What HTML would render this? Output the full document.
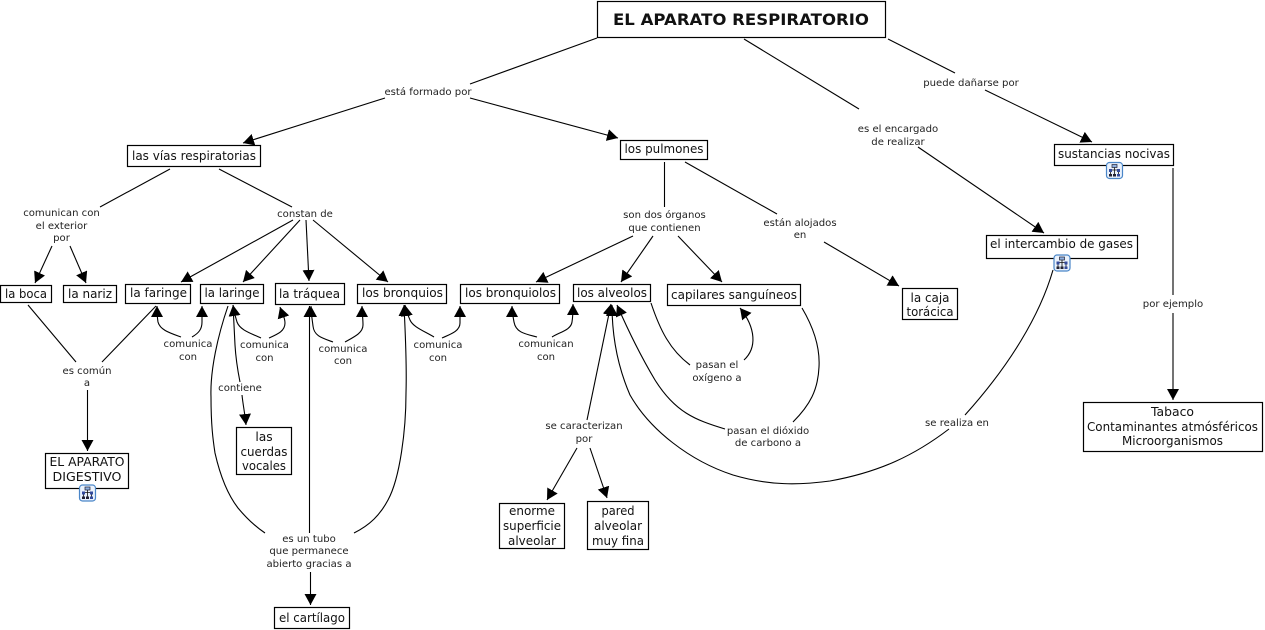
<!DOCTYPE html>
<html><head><meta charset="utf-8"><style>
html,body{margin:0;padding:0;background:#fff;width:1265px;height:630px;overflow:hidden}
svg{display:block}
text{font-family:"DejaVu Sans","Liberation Sans",sans-serif;text-anchor:middle;fill:#111}
.n{font-size:12.3px}
.l{font-size:10.1px;fill:#222}
rect.b{fill:#fff;stroke:#000;stroke-width:1.2}
.c path,.c line{fill:none;stroke:#000;stroke-width:1.1}
</style></head><body>
<svg width="1265" height="630" viewBox="0 0 1265 630" xmlns="http://www.w3.org/2000/svg">
<defs>
<marker id="a" markerUnits="userSpaceOnUse" markerWidth="14" markerHeight="14" refX="11" refY="6" orient="auto"><path d="M0,0 L11,6 L0,12 Z" fill="#000"/></marker>
<g id="ic"><rect x="0.5" y="0.5" width="16" height="16" rx="3" fill="#eaf2fc" stroke="#4a86c8" stroke-width="1.2"/><rect x="6" y="2.5" width="5" height="3" fill="#8fb0e0" stroke="#223" stroke-width=".7"/><path d="M8.5,5.5V12M4.5,8V12M12.5,8V12M4.5,8H12.5" stroke="#111" stroke-width=".8" fill="none"/><rect x="3" y="7" width="3" height="3" fill="#334a9c"/><rect x="11" y="7" width="3" height="3" fill="#334a9c"/><rect x="3" y="12" width="3" height="2.5" fill="#223"/><rect x="7" y="12" width="3" height="2.5" fill="#223"/><rect x="11" y="12" width="3" height="2.5" fill="#334a9c"/></g>
</defs>
<g class="c">
<line x1="597" y1="38" x2="470" y2="84"/>
<line x1="385" y1="98" x2="243" y2="143" marker-end="url(#a)"/>
<line x1="470" y1="98" x2="618" y2="138" marker-end="url(#a)"/>
<line x1="744" y1="39" x2="859" y2="109"/>
<line x1="918" y1="147" x2="1044" y2="233" marker-end="url(#a)"/>
<line x1="888" y1="39" x2="955" y2="73"/>
<line x1="985" y1="90" x2="1092" y2="142" marker-end="url(#a)"/>
<line x1="1173" y1="168" x2="1173" y2="295" stroke-width="1.3"/>
<line x1="1173" y1="313" x2="1173" y2="400" marker-end="url(#a)"/>
<line x1="170" y1="169" x2="100" y2="207"/>
<line x1="219" y1="169" x2="292" y2="207"/>
<line x1="52" y1="246" x2="35" y2="283" marker-end="url(#a)"/>
<line x1="70" y1="246" x2="86" y2="283" marker-end="url(#a)"/>
<line x1="293" y1="220" x2="181" y2="282" marker-end="url(#a)"/>
<line x1="300" y1="220" x2="243" y2="282" marker-end="url(#a)"/>
<line x1="306" y1="220" x2="309" y2="281" marker-end="url(#a)"/>
<line x1="313" y1="220" x2="388" y2="282" marker-end="url(#a)"/>
<line x1="664.5" y1="162" x2="664.5" y2="207"/>
<line x1="633" y1="236" x2="536" y2="282" marker-end="url(#a)"/>
<line x1="653" y1="236" x2="621" y2="282" marker-end="url(#a)"/>
<line x1="678" y1="236" x2="722" y2="282" marker-end="url(#a)"/>
<line x1="685" y1="162" x2="777" y2="214"/>
<line x1="824" y1="242" x2="899" y2="286" marker-end="url(#a)"/>
<line x1="28" y1="305" x2="76" y2="362"/>
<line x1="156" y1="306" x2="102" y2="362"/>
<line x1="87.5" y1="390" x2="87.5" y2="451" marker-end="url(#a)"/>
<path d="M181,337 C170,333 160,330 158,322 C157,316 157,312 157,306" marker-end="url(#a)"/>
<path d="M192,337 C199,333 202,329 202,322 L202,306" marker-end="url(#a)"/>
<path d="M261,338 C250,333 240,330 237,322 C235,316 234,312 233,305" marker-end="url(#a)"/>
<path d="M269,338 C278,334 285,331 285,323 C285,317 282,313 280,307" marker-end="url(#a)"/>
<path d="M333,342 C322,338 314,336 313,326 C312,318 311,313 311,306" marker-end="url(#a)"/>
<path d="M345,342 C354,337 363,333 363,325 C363,318 362,313 362,306" marker-end="url(#a)"/>
<path d="M434,337 C424,331 413,327 410,320 C408,315 406,311 405,305" marker-end="url(#a)"/>
<path d="M442,338 C451,334 460,331 460,323 L460,306" marker-end="url(#a)"/>
<path d="M537,337 C526,334 516,333 514,322 C513,316 512,312 512,306" marker-end="url(#a)"/>
<path d="M552,337 C560,332 571,330 572,322 C573,316 573,311 573,304" marker-end="url(#a)"/>
<path d="M233,305 L235,345 C236,362 238,372 240,382"/>
<path d="M242,395 C243,405 245,414 246,425" marker-end="url(#a)"/>
<line x1="309.5" y1="533" x2="309.5" y2="306" marker-end="url(#a)"/>
<line x1="310.5" y1="572" x2="310.5" y2="605" marker-end="url(#a)"/>
<path d="M228,306 C218,335 210,370 211,397 C211,425 213,440 215,453 C220,475 228,495 238,508 C248,520 256,527 265,533"/>
<path d="M354,533 C370,525 380,515 388,500 C400,478 406,430 406,393 C407,360 405,330 404,305" marker-end="url(#a)"/>
<line x1="587" y1="420" x2="611" y2="304" marker-end="url(#a)"/>
<line x1="577" y1="448" x2="547" y2="500" marker-end="url(#a)"/>
<line x1="590" y1="448" x2="607" y2="498" marker-end="url(#a)"/>
<path d="M651,303 C660,330 670,350 690,365"/>
<path d="M744,360 C757,348 756,328 740,308" marker-end="url(#a)"/>
<path d="M802,308 C815,330 820,350 819,367 C818,390 810,405 793,422"/>
<path d="M725,429 C695,420 675,412 655,380 C640,355 628,330 617,305" marker-end="url(#a)"/>
<path d="M1053,270 C1040,315 1010,365 965,415"/>
<path d="M949,429 C915,455 880,472 830,481 C800,485 770,486 733,475 C690,461 650,430 630,395 C617,365 612,335 612,305" marker-end="url(#a)"/>
</g>

<rect class="b" x="597.5" y="1.5" width="288" height="36"/>
<text x="741" y="25" font-size="16" font-weight="bold" fill="#000" textLength="256" lengthAdjust="spacingAndGlyphs">EL APARATO RESPIRATORIO</text>
<rect class="b" x="127.5" y="145.5" width="133" height="21"/><text class="n" x="194" y="160" textLength="124" lengthAdjust="spacingAndGlyphs">las vías respiratorias</text>
<rect class="b" x="620.5" y="140.5" width="87" height="19"/><text class="n" x="664" y="153" textLength="79" lengthAdjust="spacingAndGlyphs">los pulmones</text>
<rect class="b" x="1054.5" y="144.5" width="119" height="21"/><text class="n" x="1114" y="158" textLength="112" lengthAdjust="spacingAndGlyphs">sustancias nocivas</text>
<rect class="b" x="986.5" y="235.5" width="151" height="23"/><text class="n" x="1061.5" y="248" textLength="143" lengthAdjust="spacingAndGlyphs">el intercambio de gases</text>
<rect class="b" x="0.5" y="285.5" width="51" height="17"/><text class="n" x="26" y="298" textLength="42" lengthAdjust="spacingAndGlyphs">la boca</text>
<rect class="b" x="63.5" y="285.5" width="53" height="17"/><text class="n" x="90" y="298" textLength="44" lengthAdjust="spacingAndGlyphs">la nariz</text>
<rect class="b" x="125.5" y="284.5" width="65" height="19"/><text class="n" x="158.5" y="297" textLength="57" lengthAdjust="spacingAndGlyphs">la faringe</text>
<rect class="b" x="200.5" y="284.5" width="63" height="19"/><text class="n" x="232" y="297" textLength="55" lengthAdjust="spacingAndGlyphs">la laringe</text>
<rect class="b" x="275.5" y="283.5" width="69" height="21"/><text class="n" x="309.5" y="298" textLength="61" lengthAdjust="spacingAndGlyphs">la tráquea</text>
<rect class="b" x="357.5" y="284.5" width="89" height="19"/><text class="n" x="402.5" y="297" textLength="81" lengthAdjust="spacingAndGlyphs">los bronquios</text>
<rect class="b" x="460.5" y="284.5" width="99" height="19"/><text class="n" x="510.5" y="297" textLength="91" lengthAdjust="spacingAndGlyphs">los bronquiolos</text>
<rect class="b" x="573.5" y="284.5" width="77" height="17"/><text class="n" x="612" y="297" textLength="70" lengthAdjust="spacingAndGlyphs">los alveolos</text>
<rect class="b" x="667.5" y="284.5" width="133" height="21"/><text class="n" x="734" y="299" textLength="126" lengthAdjust="spacingAndGlyphs">capilares sanguíneos</text>
<rect class="b" x="902.5" y="288.5" width="55" height="31"/><text class="n" x="930" y="302" textLength="39" lengthAdjust="spacingAndGlyphs">la caja</text><text class="n" x="930" y="316" textLength="47" lengthAdjust="spacingAndGlyphs">torácica</text>
<rect class="b" x="236.5" y="427.5" width="55" height="47"/><text class="n" x="264" y="441">las</text><text class="n" x="264" y="456" textLength="47" lengthAdjust="spacingAndGlyphs">cuerdas</text><text class="n" x="264" y="470" textLength="44" lengthAdjust="spacingAndGlyphs">vocales</text>
<rect class="b" x="45.5" y="453.5" width="83" height="35"/><text class="n" x="87" y="466" textLength="75" lengthAdjust="spacingAndGlyphs">EL APARATO</text><text class="n" x="87" y="481" textLength="69" lengthAdjust="spacingAndGlyphs">DIGESTIVO</text>
<rect class="b" x="274.5" y="607.5" width="75" height="21"/><text class="n" x="312" y="622" textLength="66" lengthAdjust="spacingAndGlyphs">el cartílago</text>
<rect class="b" x="499.5" y="503.5" width="65" height="45"/><text class="n" x="532" y="515" textLength="46" lengthAdjust="spacingAndGlyphs">enorme</text><text class="n" x="532" y="530" textLength="58" lengthAdjust="spacingAndGlyphs">superficie</text><text class="n" x="532" y="545" textLength="48" lengthAdjust="spacingAndGlyphs">alveolar</text>
<rect class="b" x="587.5" y="501.5" width="61" height="48"/><text class="n" x="618" y="515" textLength="33" lengthAdjust="spacingAndGlyphs">pared</text><text class="n" x="618" y="530" textLength="48" lengthAdjust="spacingAndGlyphs">alveolar</text><text class="n" x="618" y="545" textLength="52" lengthAdjust="spacingAndGlyphs">muy fina</text>
<rect class="b" x="1083.5" y="402.5" width="179" height="49"/><text class="n" x="1172.5" y="416" textLength="43" lengthAdjust="spacingAndGlyphs">Tabaco</text><text class="n" x="1172.5" y="431" textLength="171" lengthAdjust="spacingAndGlyphs">Contaminantes atmósféricos</text><text class="n" x="1172.5" y="445" textLength="101" lengthAdjust="spacingAndGlyphs">Microorganismos</text>

<use href="#ic" x="1106" y="162"/><use href="#ic" x="1053.5" y="254.5"/><use href="#ic" x="79" y="484.5"/>

<text class="l" x="428" y="95">está formado por</text>
<text class="l" x="898" y="132">es el encargado</text><text class="l" x="898" y="145">de realizar</text>
<text class="l" x="971" y="86">puede dañarse por</text>
<text class="l" x="1173" y="307">por ejemplo</text>
<text class="l" x="61.5" y="216">comunican con</text><text class="l" x="61.5" y="229">el exterior</text><text class="l" x="61.5" y="241">por</text>
<text class="l" x="305" y="217">constan de</text>
<text class="l" x="664.5" y="218">son dos órganos</text><text class="l" x="664.5" y="231">que contienen</text>
<text class="l" x="800" y="226">están alojados</text><text class="l" x="800" y="238">en</text>
<text class="l" x="87" y="374">es común</text><text class="l" x="87" y="386">a</text>
<text class="l" x="188" y="347">comunica</text><text class="l" x="188" y="360">con</text>
<text class="l" x="264.5" y="348">comunica</text><text class="l" x="264.5" y="361">con</text>
<text class="l" x="343" y="352">comunica</text><text class="l" x="343" y="364">con</text>
<text class="l" x="438" y="348">comunica</text><text class="l" x="438" y="361">con</text>
<text class="l" x="546" y="347">comunican</text><text class="l" x="546" y="360">con</text>
<text class="l" x="240" y="391">contiene</text>
<text class="l" x="309" y="542">es un tubo</text><text class="l" x="309" y="554">que permanece</text><text class="l" x="309" y="567">abierto gracias a</text>
<text class="l" x="584" y="429">se caracterizan</text><text class="l" x="584" y="442">por</text>
<text class="l" x="717" y="368">pasan el</text><text class="l" x="717" y="381">oxígeno a</text>
<text class="l" x="768" y="434">pasan el dióxido</text><text class="l" x="768" y="446">de carbono a</text>
<text class="l" x="957" y="426">se realiza en</text>
</svg>
</body></html>
